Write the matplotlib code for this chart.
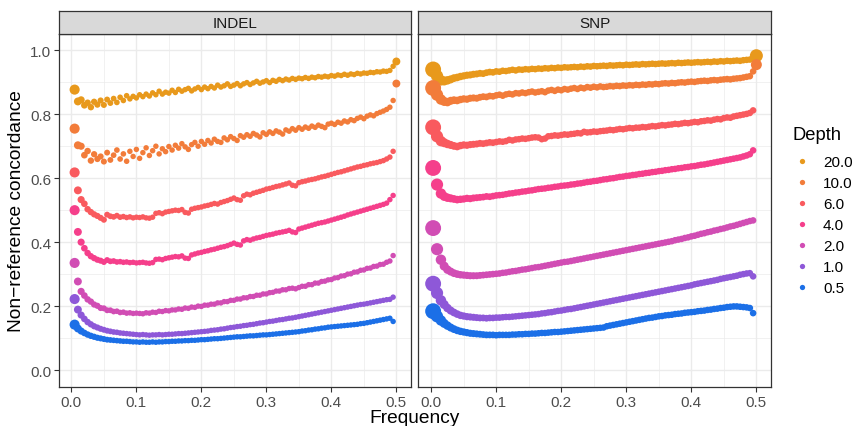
import numpy as np
import matplotlib
matplotlib.use("Agg")
import matplotlib.pyplot as plt
from matplotlib.lines import Line2D
from matplotlib.ticker import MultipleLocator

plt.rcParams['font.family'] = ['Liberation Sans', 'DejaVu Sans']

# ---------------- data ----------------
depths = ["20.0", "10.0", "6.0", "4.0", "2.0", "1.0", "0.5"]
depth_colors = ["#E8991C", "#F27C3A", "#F95A5E", "#F53F8B", "#D14DB4", "#8E58D8", "#1B6FE7"]
panels = ["INDEL", "SNP"]

indel_freq = np.round(np.arange(1, 100) * 0.005, 3)          # 0.005 ... 0.495
snp_freq = np.concatenate([[0.003, 0.009, 0.015],
                           np.round(0.02 + 0.005 * np.arange(96), 3)])  # 0.02 ... 0.495

indel_20 = [0.877, 0.840, 0.845, 0.828, 0.836, 0.822, 0.839, 0.830, 0.843, 0.829,
            0.846, 0.835, 0.849, 0.837, 0.853, 0.843, 0.858, 0.848, 0.856, 0.851,
            0.861, 0.855, 0.863, 0.857, 0.867, 0.861, 0.872, 0.863, 0.869, 0.866,
            0.875, 0.868, 0.878, 0.872, 0.877, 0.881, 0.873, 0.879, 0.884, 0.877,
            0.885, 0.880, 0.887, 0.882, 0.891, 0.885, 0.889, 0.895, 0.887, 0.891,
            0.896, 0.889, 0.895, 0.899, 0.893, 0.898, 0.903, 0.897, 0.901, 0.905,
            0.899, 0.906, 0.903, 0.909, 0.905, 0.910, 0.907, 0.912, 0.909, 0.913,
            0.911, 0.915, 0.912, 0.916, 0.914, 0.918, 0.916, 0.919, 0.917, 0.921,
            0.919, 0.923, 0.921, 0.925, 0.922, 0.926, 0.924, 0.928, 0.926, 0.929,
            0.928, 0.931, 0.930, 0.933, 0.932, 0.935, 0.934, 0.937, 0.950]
indel_10 = [0.755, 0.703, 0.700, 0.672, 0.685, 0.655, 0.675, 0.660, 0.668, 0.652,
            0.680, 0.657, 0.672, 0.688, 0.660, 0.676, 0.653, 0.684, 0.668, 0.690,
            0.662, 0.680, 0.695, 0.671, 0.686, 0.700, 0.676, 0.692, 0.683, 0.699,
            0.688, 0.703, 0.694, 0.708, 0.698, 0.690, 0.705, 0.712, 0.700, 0.715,
            0.706, 0.718, 0.710, 0.722, 0.715, 0.712, 0.726, 0.720, 0.730, 0.724,
            0.718, 0.733, 0.728, 0.736, 0.731, 0.740, 0.735, 0.729, 0.742, 0.737,
            0.745, 0.740, 0.748, 0.744, 0.738, 0.751, 0.747, 0.755, 0.750, 0.758,
            0.753, 0.760, 0.756, 0.763, 0.759, 0.766, 0.762, 0.758, 0.769, 0.772,
            0.768, 0.775, 0.772, 0.779, 0.776, 0.783, 0.780, 0.787, 0.791, 0.786,
            0.794, 0.798, 0.795, 0.802, 0.806, 0.810, 0.815, 0.822, 0.843]
indel_6 = [0.618, 0.562, 0.533, 0.520, 0.503, 0.494, 0.487, 0.482, 0.476, 0.470,
           0.486, 0.481, 0.479, 0.483, 0.478, 0.480, 0.477, 0.479, 0.476, 0.478,
           0.477, 0.479, 0.476, 0.475, 0.478, 0.490, 0.492, 0.489, 0.494, 0.496,
           0.498, 0.500, 0.499, 0.502, 0.493, 0.491, 0.503, 0.506, 0.508, 0.510,
           0.513, 0.515, 0.518, 0.521, 0.519, 0.524, 0.527, 0.530, 0.534, 0.538,
           0.533, 0.531, 0.545, 0.550, 0.548, 0.553, 0.556, 0.559, 0.562, 0.566,
           0.568, 0.571, 0.574, 0.576, 0.579, 0.582, 0.585, 0.578, 0.576, 0.586,
           0.589, 0.591, 0.594, 0.596, 0.598, 0.601, 0.604, 0.606, 0.609, 0.612,
           0.615, 0.618, 0.620, 0.623, 0.626, 0.629, 0.632, 0.635, 0.637, 0.640,
           0.642, 0.645, 0.647, 0.649, 0.652, 0.655, 0.660, 0.666, 0.684]
indel_4 = [0.500, 0.432, 0.400, 0.381, 0.366, 0.356, 0.350, 0.345, 0.342, 0.338,
           0.344, 0.340, 0.341, 0.338, 0.339, 0.337, 0.338, 0.336, 0.337, 0.335,
           0.336, 0.337, 0.335, 0.334, 0.336, 0.346, 0.347, 0.345, 0.349, 0.351,
           0.353, 0.355, 0.354, 0.357, 0.350, 0.349, 0.360, 0.363, 0.366, 0.368,
           0.371, 0.373, 0.376, 0.378, 0.381, 0.384, 0.386, 0.389, 0.393, 0.397,
           0.393, 0.391, 0.404, 0.408, 0.406, 0.410, 0.413, 0.415, 0.418, 0.421,
           0.423, 0.425, 0.428, 0.430, 0.432, 0.434, 0.437, 0.432, 0.430, 0.441,
           0.444, 0.447, 0.450, 0.453, 0.456, 0.459, 0.461, 0.463, 0.466, 0.469,
           0.472, 0.475, 0.478, 0.481, 0.485, 0.488, 0.491, 0.494, 0.497, 0.500,
           0.503, 0.506, 0.509, 0.512, 0.515, 0.518, 0.522, 0.533, 0.546]
indel_2 = [0.335, 0.277, 0.246, 0.233, 0.221, 0.214, 0.205, 0.201, 0.194, 0.193,
           0.187, 0.187, 0.183, 0.184, 0.180, 0.181, 0.178, 0.179, 0.177, 0.178,
           0.177, 0.176, 0.179, 0.178, 0.181, 0.180, 0.184, 0.183, 0.186, 0.185,
           0.188, 0.188, 0.191, 0.190, 0.194, 0.193, 0.197, 0.196, 0.200, 0.199,
           0.203, 0.203, 0.206, 0.206, 0.210, 0.210, 0.214, 0.214, 0.218, 0.218,
           0.222, 0.222, 0.226, 0.226, 0.230, 0.230, 0.234, 0.234, 0.238, 0.238,
           0.242, 0.243, 0.247, 0.247, 0.251, 0.251, 0.255, 0.256, 0.254, 0.258,
           0.262, 0.262, 0.267, 0.267, 0.272, 0.272, 0.277, 0.278, 0.282, 0.283,
           0.288, 0.289, 0.294, 0.295, 0.300, 0.301, 0.306, 0.307, 0.312, 0.313,
           0.318, 0.319, 0.324, 0.325, 0.330, 0.331, 0.337, 0.341, 0.358]
indel_1 = [0.222, 0.189, 0.172, 0.160, 0.150, 0.143, 0.137, 0.133, 0.129, 0.126,
           0.123, 0.121, 0.119, 0.118, 0.116, 0.115, 0.114, 0.113, 0.112, 0.111,
           0.110, 0.111, 0.110, 0.109, 0.110, 0.110, 0.111, 0.110, 0.111, 0.112,
           0.112, 0.113, 0.114, 0.114, 0.115, 0.116, 0.117, 0.118, 0.119, 0.120,
           0.121, 0.122, 0.124, 0.125, 0.126, 0.128, 0.129, 0.131, 0.133, 0.134,
           0.136, 0.137, 0.139, 0.140, 0.142, 0.143, 0.145, 0.147, 0.148, 0.150,
           0.152, 0.153, 0.155, 0.157, 0.158, 0.160, 0.162, 0.163, 0.165, 0.167,
           0.169, 0.171, 0.173, 0.175, 0.177, 0.179, 0.181, 0.183, 0.185, 0.187,
           0.189, 0.191, 0.193, 0.195, 0.197, 0.199, 0.201, 0.203, 0.205, 0.206,
           0.208, 0.210, 0.212, 0.214, 0.216, 0.218, 0.220, 0.221, 0.228]
indel_05 = [0.142, 0.130, 0.122, 0.116, 0.111, 0.107, 0.104, 0.101, 0.099, 0.097,
            0.095, 0.094, 0.093, 0.092, 0.091, 0.090, 0.090, 0.089, 0.088, 0.088,
            0.087, 0.088, 0.087, 0.087, 0.088, 0.087, 0.088, 0.088, 0.089, 0.089,
            0.090, 0.090, 0.091, 0.091, 0.092, 0.092, 0.093, 0.093, 0.094, 0.095,
            0.095, 0.096, 0.097, 0.098, 0.098, 0.099, 0.100, 0.101, 0.102, 0.103,
            0.104, 0.104, 0.105, 0.106, 0.107, 0.107, 0.108, 0.109, 0.110, 0.110,
            0.111, 0.112, 0.113, 0.114, 0.115, 0.116, 0.117, 0.118, 0.119, 0.120,
            0.122, 0.123, 0.125, 0.126, 0.128, 0.129, 0.131, 0.132, 0.134, 0.135,
            0.136, 0.137, 0.138, 0.139, 0.140, 0.141, 0.142, 0.143, 0.145, 0.146,
            0.148, 0.150, 0.152, 0.154, 0.156, 0.158, 0.160, 0.162, 0.152]

snp_20 = [0.940, 0.920, 0.906,
          0.904, 0.906, 0.909, 0.913, 0.915, 0.918, 0.920, 0.922, 0.923, 0.925,
          0.926, 0.928, 0.927, 0.930, 0.932, 0.931, 0.934, 0.933, 0.936, 0.935,
          0.937, 0.939, 0.937, 0.940, 0.939, 0.941, 0.940, 0.942, 0.941, 0.943,
          0.942, 0.944, 0.943, 0.945, 0.944, 0.946, 0.945, 0.947, 0.946, 0.947,
          0.948, 0.947, 0.949, 0.948, 0.950, 0.949, 0.951, 0.950, 0.951, 0.952,
          0.951, 0.953, 0.952, 0.953, 0.954, 0.953, 0.955, 0.954, 0.955, 0.956,
          0.955, 0.957, 0.956, 0.957, 0.958, 0.957, 0.958, 0.959, 0.958, 0.959,
          0.960, 0.959, 0.961, 0.960, 0.961, 0.962, 0.961, 0.962, 0.963, 0.962,
          0.963, 0.964, 0.963, 0.965, 0.964, 0.966, 0.965, 0.967, 0.966, 0.967,
          0.968, 0.967, 0.969, 0.970, 0.971, 0.972]
snp_10 = [0.882, 0.861, 0.846,
          0.840, 0.838, 0.842, 0.844, 0.843, 0.846, 0.848, 0.847, 0.850, 0.851,
          0.850, 0.853, 0.855, 0.854, 0.857, 0.856, 0.859, 0.861, 0.858, 0.862,
          0.864, 0.862, 0.866, 0.865, 0.868, 0.866, 0.869, 0.871, 0.868, 0.870,
          0.872, 0.869, 0.874, 0.876, 0.873, 0.877, 0.875, 0.879, 0.877, 0.880,
          0.882, 0.879, 0.883, 0.881, 0.885, 0.883, 0.886, 0.884, 0.887, 0.885,
          0.886, 0.888, 0.887, 0.889, 0.888, 0.890, 0.889, 0.891, 0.890, 0.892,
          0.891, 0.893, 0.892, 0.894, 0.893, 0.895, 0.894, 0.896, 0.897, 0.896,
          0.898, 0.897, 0.899, 0.900, 0.899, 0.901, 0.902, 0.901, 0.903, 0.904,
          0.905, 0.904, 0.906, 0.907, 0.906, 0.908, 0.909, 0.910, 0.909, 0.911,
          0.912, 0.913, 0.915, 0.917, 0.919, 0.934]
snp_6 = [0.759, 0.731, 0.716,
         0.711, 0.707, 0.704, 0.701, 0.699, 0.702, 0.704, 0.703, 0.705, 0.706,
         0.707, 0.709, 0.708, 0.710, 0.712, 0.711, 0.713, 0.715, 0.714, 0.716,
         0.720, 0.718, 0.721, 0.722, 0.724, 0.723, 0.725, 0.727, 0.728, 0.727,
         0.722, 0.724, 0.731, 0.732, 0.734, 0.733, 0.735, 0.737, 0.736, 0.738,
         0.739, 0.741, 0.740, 0.745, 0.743, 0.744, 0.746, 0.745, 0.747, 0.748,
         0.749, 0.751, 0.750, 0.752, 0.754, 0.753, 0.755, 0.757, 0.756, 0.758,
         0.758, 0.760, 0.759, 0.761, 0.763, 0.762, 0.764, 0.766, 0.765, 0.767,
         0.768, 0.770, 0.769, 0.771, 0.773, 0.772, 0.774, 0.776, 0.775, 0.778,
         0.779, 0.781, 0.780, 0.783, 0.785, 0.784, 0.788, 0.790, 0.789, 0.793,
         0.795, 0.797, 0.799, 0.801, 0.804, 0.812]
snp_4 = [0.632, 0.580, 0.552,
         0.543, 0.539, 0.537, 0.535, 0.533, 0.534, 0.535, 0.537, 0.536, 0.538,
         0.539, 0.540, 0.541, 0.543, 0.542, 0.544, 0.546, 0.547, 0.548, 0.550,
         0.552, 0.553, 0.555, 0.556, 0.558, 0.559, 0.561, 0.562, 0.564, 0.566,
         0.567, 0.568, 0.570, 0.571, 0.573, 0.574, 0.576, 0.577, 0.578, 0.580,
         0.581, 0.583, 0.584, 0.586, 0.588, 0.589, 0.591, 0.592, 0.594, 0.596,
         0.597, 0.599, 0.600, 0.602, 0.604, 0.605, 0.607, 0.608, 0.610, 0.611,
         0.613, 0.614, 0.616, 0.617, 0.619, 0.620, 0.622, 0.623, 0.625, 0.626,
         0.628, 0.629, 0.631, 0.632, 0.634, 0.635, 0.637, 0.638, 0.640, 0.642,
         0.643, 0.645, 0.647, 0.649, 0.651, 0.653, 0.655, 0.657, 0.659, 0.661,
         0.663, 0.665, 0.668, 0.671, 0.675, 0.687]
snp_2 = [0.444, 0.378, 0.345,
         0.325, 0.314, 0.308, 0.303, 0.300, 0.298, 0.297, 0.296, 0.295, 0.295,
         0.295, 0.296, 0.297, 0.298, 0.299, 0.300, 0.301, 0.302, 0.304, 0.305,
         0.307, 0.309, 0.310, 0.312, 0.314, 0.315, 0.317, 0.319, 0.321, 0.322,
         0.324, 0.326, 0.328, 0.330, 0.332, 0.334, 0.336, 0.338, 0.339, 0.341,
         0.343, 0.345, 0.347, 0.349, 0.351, 0.353, 0.355, 0.357, 0.359, 0.361,
         0.363, 0.365, 0.367, 0.369, 0.371, 0.373, 0.375, 0.377, 0.379, 0.381,
         0.383, 0.385, 0.387, 0.389, 0.391, 0.393, 0.395, 0.397, 0.399, 0.401,
         0.403, 0.406, 0.408, 0.410, 0.413, 0.415, 0.418, 0.420, 0.423, 0.426,
         0.428, 0.431, 0.433, 0.436, 0.438, 0.441, 0.443, 0.446, 0.449, 0.451,
         0.454, 0.457, 0.460, 0.463, 0.466, 0.468]
snp_1 = [0.270, 0.241, 0.218,
         0.205, 0.194, 0.186, 0.180, 0.175, 0.171, 0.169, 0.167, 0.166, 0.165,
         0.164, 0.163, 0.163, 0.162, 0.163, 0.163, 0.164, 0.164, 0.165, 0.166,
         0.166, 0.167, 0.168, 0.169, 0.170, 0.171, 0.172, 0.173, 0.174, 0.175,
         0.177, 0.178, 0.180, 0.181, 0.183, 0.185, 0.186, 0.188, 0.190, 0.191,
         0.193, 0.195, 0.197, 0.199, 0.201, 0.203, 0.205, 0.207, 0.209, 0.211,
         0.213, 0.215, 0.217, 0.219, 0.221, 0.223, 0.225, 0.227, 0.229, 0.231,
         0.233, 0.235, 0.237, 0.239, 0.241, 0.243, 0.245, 0.247, 0.249, 0.251,
         0.253, 0.255, 0.257, 0.259, 0.261, 0.263, 0.265, 0.268, 0.270, 0.272,
         0.274, 0.276, 0.278, 0.280, 0.282, 0.285, 0.287, 0.289, 0.291, 0.293,
         0.295, 0.298, 0.300, 0.302, 0.303, 0.293]
snp_05 = [0.184, 0.168, 0.155,
          0.146, 0.139, 0.133, 0.128, 0.124, 0.121, 0.119, 0.117, 0.115, 0.114,
          0.113, 0.112, 0.111, 0.110, 0.110, 0.110, 0.109, 0.110, 0.110, 0.110,
          0.110, 0.111, 0.111, 0.112, 0.112, 0.113, 0.113, 0.114, 0.114, 0.115,
          0.116, 0.116, 0.117, 0.118, 0.119, 0.119, 0.120, 0.121, 0.122, 0.123,
          0.124, 0.125, 0.126, 0.127, 0.128, 0.129, 0.130, 0.131, 0.132, 0.133,
          0.137, 0.139, 0.141, 0.143, 0.145, 0.147, 0.149, 0.151, 0.153, 0.155,
          0.157, 0.159, 0.161, 0.163, 0.164, 0.166, 0.168, 0.169, 0.171, 0.172,
          0.173, 0.175, 0.176, 0.177, 0.179, 0.180, 0.181, 0.182, 0.184, 0.185,
          0.186, 0.188, 0.189, 0.191, 0.192, 0.194, 0.195, 0.197, 0.198, 0.199,
          0.199, 0.198, 0.197, 0.196, 0.194, 0.178]

# number of sites per frequency bin (relative; mapped to point size)
indel_sites = [35, 18, 13, 10, 9, 8.5, 8, 7.5, 7, 6.5, 6, 5.5, 5, 4.8, 4.6, 4.4, 4.2, 4.0] + [3.8] * 81
snp_sites = [100, 55, 38, 26, 22, 19, 17, 16, 15, 14, 13.5, 13, 12.5, 12, 11.5, 11, 10.8, 10.6, 10.4, 10.2, 10] + [9.5] * 78

# extra bin at frequency 0.5 (present only for the two highest depths)
end_freq = 0.5
indel_end_vals = {"20.0": 0.965, "10.0": 0.896}
indel_end_sites = {"20.0": 18, "10.0": 18}
snp_end_vals = {"20.0": 0.983, "10.0": 0.955}
snp_end_sites = {"20.0": 64, "10.0": 43}

indel_vals = dict(zip(depths, [indel_20, indel_10, indel_6, indel_4, indel_2, indel_1, indel_05]))
snp_vals = dict(zip(depths, [snp_20, snp_10, snp_6, snp_4, snp_2, snp_1, snp_05]))


def area(n):
    return 11 + 1.2 * np.asarray(n, dtype=float)

# ---------------- figure ----------------
W, H = 854, 427
fig = plt.figure(figsize=(W / 100, H / 100), dpi=100)

def fx(px):
    return px / W

def fy(py):
    return 1 - py / H

panel_top, panel_bot = 34.5, 388
strip_top = 11.5
ax_boxes = [(58.7, 411.0), (418.5, 771.0)]

grid_col = "#EBEBEB"
for i, (name, (x0, x1)) in enumerate(zip(panels, ax_boxes)):
    ax = fig.add_axes([fx(x0), fy(panel_bot), fx(x1 - x0), (panel_bot - panel_top) / H])
    freq = indel_freq if name == "INDEL" else snp_freq
    vals = indel_vals if name == "INDEL" else snp_vals
    sites = indel_sites if name == "INDEL" else snp_sites
    end_vals = indel_end_vals if name == "INDEL" else snp_end_vals
    end_sites = indel_end_sites if name == "INDEL" else snp_end_sites
    for d, c in zip(depths, depth_colors):
        x = list(freq)
        y = list(vals[d])
        s = list(area(sites))
        if d in end_vals:
            x.append(end_freq)
            y.append(end_vals[d])
            s.append(float(area(end_sites[d])))
        ax.scatter(x, y, s=s, c=c, linewidths=0, zorder=3)

    ax.set_xlim(-0.0195, 0.5225)
    ax.set_ylim(-0.053, 1.0525)
    ax.xaxis.set_major_locator(MultipleLocator(0.1))
    ax.xaxis.set_minor_locator(MultipleLocator(0.05))
    ax.yaxis.set_major_locator(MultipleLocator(0.2))
    ax.yaxis.set_minor_locator(MultipleLocator(0.1))
    ax.grid(which="major", color=grid_col, linewidth=1.0, zorder=0)
    ax.grid(which="minor", color=grid_col, linewidth=0.5, zorder=0)
    ax.set_axisbelow(True)
    for sp in ax.spines.values():
        sp.set_color("#333333")
        sp.set_linewidth(0.9)
    ax.tick_params(which="minor", length=0)
    ax.tick_params(which="major", length=3.5, width=0.8, color="#333333",
                   labelsize=11, labelcolor="#4D4D4D", pad=2)
    ax.set_xticklabels([f"{v:.1f}" for v in ax.get_xticks()])
    if i == 0:
        ax.set_yticklabels([f"{v:.1f}" for v in ax.get_yticks()])
    else:
        ax.tick_params(axis="y", which="both", left=False, labelleft=False)

    # facet strip
    sax = fig.add_axes([fx(x0), fy(panel_top), fx(x1 - x0), (panel_top - strip_top) / H])
    sax.set_facecolor("#D9D9D9")
    sax.set_xticks([])
    sax.set_yticks([])
    for sp in sax.spines.values():
        sp.set_color("#333333")
        sp.set_linewidth(0.9)
    sax.text(0.5, 0.47, name, ha="center", va="center", fontsize=11, color="#1A1A1A",
             transform=sax.transAxes)

fig.text(fx(414.8), fy(419), "Frequency", ha="center", va="center", fontsize=13.8, color="black")
fig.text(fx(17), fy(211), "Non\u2212reference concordance", ha="center", va="center",
         rotation=90, fontsize=13.8, color="black")

# legend
fig.text(fx(792.7), fy(135), "Depth", ha="left", va="center", fontsize=13.2, color="black")
handles = [Line2D([], [], marker="o", linestyle="none", markersize=3.8,
                  markerfacecolor=c, markeredgewidth=0) for c in depth_colors]
leg = fig.legend(handles, depths, loc="upper left", bbox_to_anchor=(fx(787), fy(150)),
                 frameon=False, fontsize=11,
                 labelspacing=0.46, handlelength=1.21, handletextpad=0.74,
                 borderaxespad=0)

fig.savefig("out.png", dpi=100)
